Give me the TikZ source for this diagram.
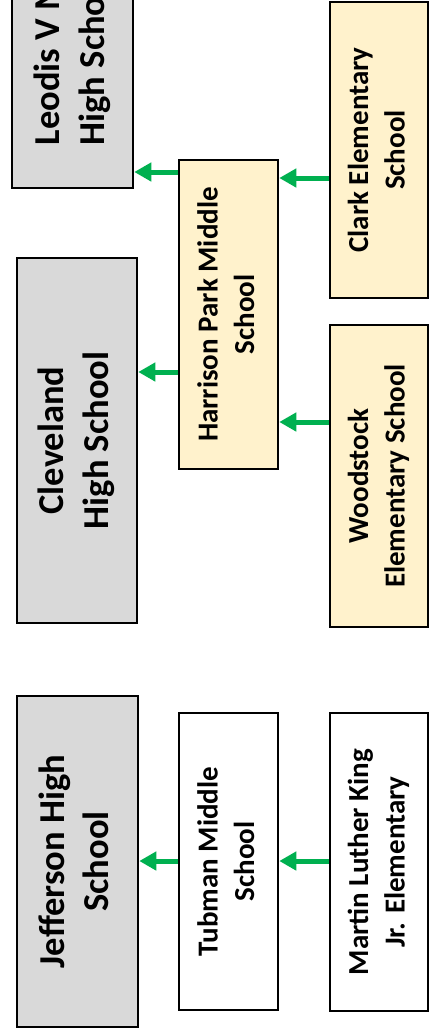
\documentclass[tikz,border=0pt]{standalone}
\usepackage{fontspec}
\setmainfont{Carlito}
\usetikzlibrary{arrows.meta}
\definecolor{boxgray}{HTML}{D9D9D9}
\definecolor{boxyellow}{HTML}{FFF2CC}
\definecolor{arrowgreen}{HTML}{00B050}
\newcommand{\bigtxt}[2][c]{\rotatebox{90}{\fontsize{36.5}{45}\selectfont\bfseries\begin{tabular}{@{}#1@{}}#2\end{tabular}}}
\newcommand{\smalltxt}[1]{\rotatebox{90}{\fontsize{29}{36.5}\selectfont\bfseries\begin{tabular}{@{}c@{}}#1\end{tabular}}}
\tikzset{
  schoolbox/.style={draw=black, line width=2.5pt, inner sep=0pt, text=black},
  highbox/.style={schoolbox, fill=boxgray},
  midbox/.style={schoolbox, fill=boxyellow},
  whitebox/.style={schoolbox, fill=white},
  link/.style={draw=arrowgreen, line width=5pt, -{Triangle[length=17pt,width=18pt]}},
}
\begin{document}
\begin{tikzpicture}[x=1pt, y=-1pt]
\useasboundingbox (0,0) rectangle (435,1029);
\clip (0,0) rectangle (435,1029);
% high schools
\node[highbox, minimum width=121pt, minimum height=364pt] (leodis) at (72.5,6) {\bigtxt[l]{Leodis V McDaniel\\High School}};
\node[highbox, minimum width=120pt, minimum height=365pt] (cleveland) at (77,440.5) {\bigtxt{Cleveland\\High School}};
\node[highbox, minimum width=121pt, minimum height=331pt] (jefferson) at (77.5,861.5) {\bigtxt{Jefferson High\\School}};
% middle schools
\node[midbox, minimum width=99pt, minimum height=309pt] (harrison) at (228.5,314.5) {\smalltxt{Harrison Park Middle\\School}};
\node[whitebox, minimum width=99pt, minimum height=297pt] (tubman) at (228.5,861.5) {\smalltxt{Tubman Middle\\School}};
% elementary schools
\node[midbox, minimum width=98pt, minimum height=296pt] (clark) at (379,150) {\smalltxt{Clark Elementary\\School}};
\node[midbox, minimum width=98pt, minimum height=302pt] (woodstock) at (379,476) {\smalltxt{Woodstock\\Elementary School}};
\node[whitebox, minimum width=98pt, minimum height=298pt] (mlk) at (379,862) {\smalltxt{Martin Luther King\\Jr. Elementary}};
% arrow levels
\coordinate (ya) at (0,172);
\coordinate (yb) at (0,178);
\coordinate (yc) at (0,372);
\coordinate (yd) at (0,422);
\coordinate (ye) at (0,861);
% connectors
\draw[link] (harrison.west |- ya) -- (leodis.east |- ya);
\draw[link] (harrison.west |- yc) -- (cleveland.east |- yc);
\draw[link] (clark.west |- yb) -- (harrison.east |- yb);
\draw[link] (woodstock.west |- yd) -- (harrison.east |- yd);
\draw[link] (tubman.west |- ye) -- (jefferson.east |- ye);
\draw[link] (mlk.west |- ye) -- (tubman.east |- ye);
\end{tikzpicture}
\end{document}
